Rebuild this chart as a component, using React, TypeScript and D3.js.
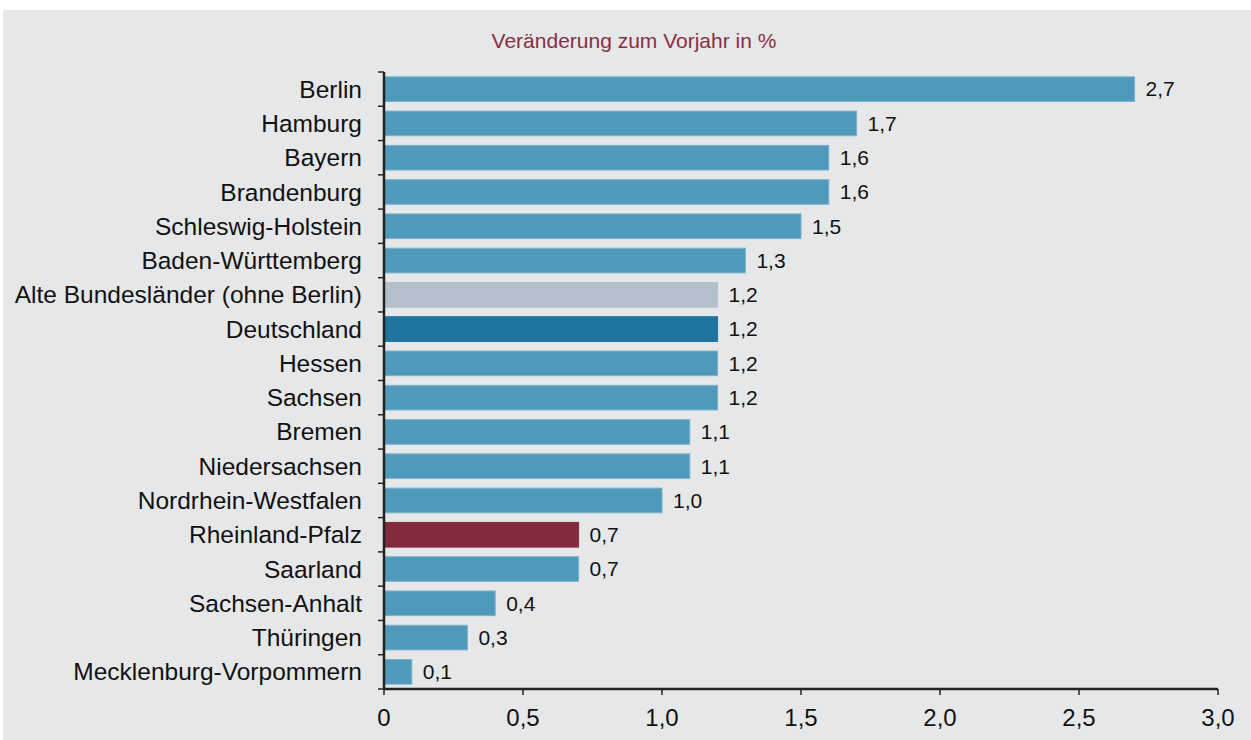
import React from "react";
import * as d3 from "d3";

// Veränderung zum Vorjahr in %
const laender = [
  "Berlin",
  "Hamburg",
  "Bayern",
  "Brandenburg",
  "Schleswig-Holstein",
  "Baden-Württemberg",
  "Alte Bundesländer (ohne Berlin)",
  "Deutschland",
  "Hessen",
  "Sachsen",
  "Bremen",
  "Niedersachsen",
  "Nordrhein-Westfalen",
  "Rheinland-Pfalz",
  "Saarland",
  "Sachsen-Anhalt",
  "Thüringen",
  "Mecklenburg-Vorpommern",
];
const werte = [2.7, 1.7, 1.6, 1.6, 1.5, 1.3, 1.2, 1.2, 1.2, 1.2, 1.1, 1.1, 1.0, 0.7, 0.7, 0.4, 0.3, 0.1];
const xTicks = [0, 0.5, 1, 1.5, 2, 2.5, 3];

const W = 1251;
const H = 740;
const left = 384;
const right = 1218;
const top = 72;
const bottom = 689;
const font = "'Liberation Sans', Arial, sans-serif";

const fmt = (v: number) => (v === 0 ? "0" : d3.format(".1f")(v).replace(".", ","));

function barColor(name: string) {
  if (name === "Deutschland") return "#1f74a0";
  if (name === "Alte Bundesländer (ohne Berlin)") return "#b3c0cc";
  if (name === "Rheinland-Pfalz") return "#822b3c";
  return "#4f9aba";
}

export default function App() {
  const x = d3.scaleLinear().domain([0, 3]).range([left, right]);
  const y = d3
    .scaleBand<string>()
    .domain(laender)
    .range([top, bottom])
    .paddingInner(0.28)
    .paddingOuter(0.14);
  const step = y.step();

  return (
    <svg
      width={W}
      height={H}
      style={{ position: "absolute", left: 0, top: 0, background: "#fff" }}
      fontFamily={font}
    >
      <rect x={3} y={10} width={W - 3} height={H - 10} fill="#e6e7e9" />
      <text x={634} y={48} textAnchor="middle" fontSize={21} fill="#8a2f42">
        Veränderung zum Vorjahr in %
      </text>

      {laender.map((d, i) => {
        const v = werte[i];
        const c = barColor(d);
        const yy = y(d)!;
        const cy = yy + y.bandwidth() / 2;
        return (
          <g key={d}>
            <rect
              x={x(0)}
              y={yy}
              width={x(v) - x(0)}
              height={y.bandwidth()}
              fill={c}
              stroke={c === "#4f9aba" ? "#7cb4cc" : c}
              strokeWidth={1}
            />
            <text x={362} y={cy} dy="0.35em" textAnchor="end" fontSize={24.5} fill="#111">
              {d}
            </text>
            <text x={x(v) + 11} y={cy} dy="0.35em" fontSize={21} fill="#111">
              {fmt(v)}
            </text>
          </g>
        );
      })}

      {/* y axis ticks at category boundaries */}
      {d3.range(laender.length + 1).map((k) => (
        <line
          key={k}
          x1={378}
          x2={left}
          y1={top + k * step}
          y2={top + k * step}
          stroke="#222"
          strokeWidth={1.5}
        />
      ))}
      <line x1={left} x2={left} y1={top} y2={bottom} stroke="#222" strokeWidth={2.5} />

      <line x1={left} x2={right} y1={bottom} y2={bottom} stroke="#222" strokeWidth={2.5} />
      {xTicks.map((t) => (
        <g key={t}>
          <line x1={x(t)} x2={x(t)} y1={bottom} y2={bottom + 6} stroke="#222" strokeWidth={1.5} />
          <text x={x(t)} y={726} textAnchor="middle" fontSize={24} fill="#111">
            {fmt(t)}
          </text>
        </g>
      ))}
    </svg>
  );
}
